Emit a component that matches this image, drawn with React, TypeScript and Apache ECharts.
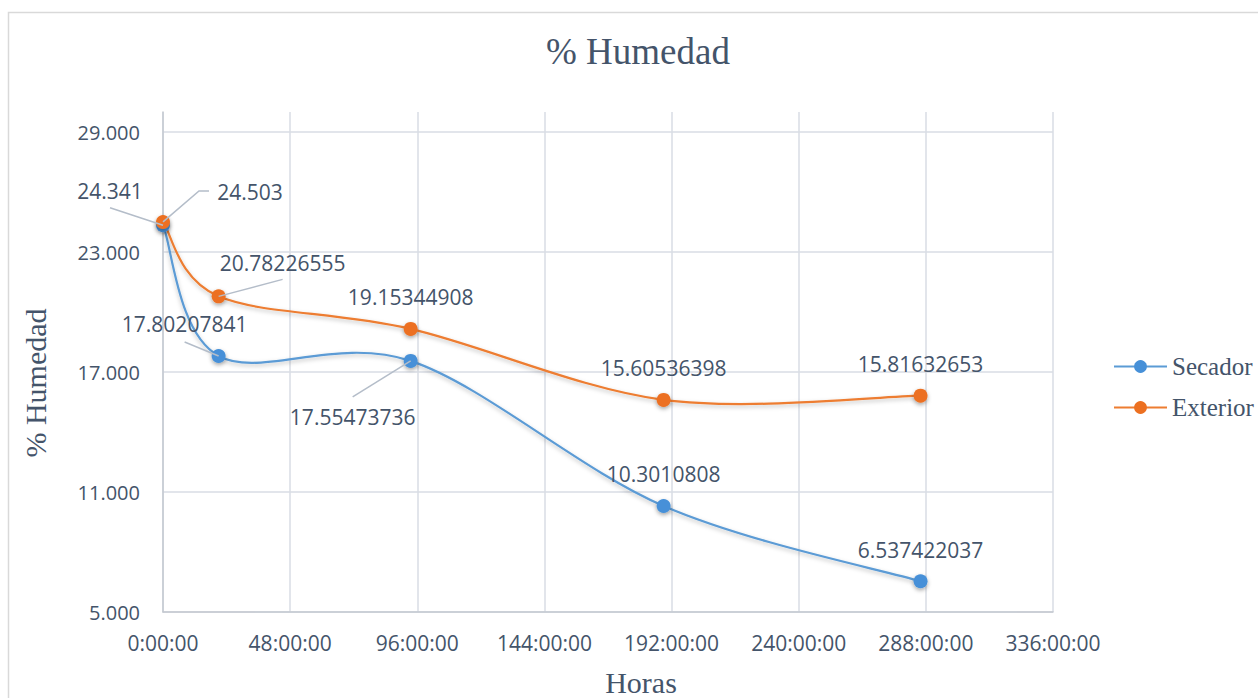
import React, { useEffect, useRef } from "react";
import * as echarts from "echarts";

// ---- data ----
const horasSecador = [0, 21, 93.5, 189, 286];
const horasExterior = [0, 21, 93.5, 189, 286];
const secador = [24.341, 17.80207841, 17.55473736, 10.3010808, 6.537422037];
const exterior = [24.503, 20.78226555, 19.15344908, 15.60536398, 15.81632653];
const seriesNames = ["Secador", "Exterior"];
const xTickHours = [0, 48, 96, 144, 192, 240, 288, 336];
const yTickValues = [5, 11, 17, 23, 29];
const titleText = "% Humedad";
const xAxisTitle = "Horas";
const yAxisTitle = "% Humedad";

// ---- label placement (style, pixel offsets) ----
const secadorLabelOffsets = [[-53, -3], [-34, 0], [-58, 88], [0, 0], [0, 0]];
const exteriorLabelOffsets = [[87, 2], [64, -2], [0, 0], [0, 0], [0, 0]];
// leader line points, in px relative to the data point (null = no leader)
const secadorLeaderOffsets: (number[][] | null)[] = [
  [[-53, -17.5]],
  [[-34, -14]],
  [[-58, 36]],
  null,
  null,
];
const exteriorLeaderOffsets: (number[][] | null)[] = [
  [[36, -31], [46, -31]],
  [[64, -17]],
  null,
  null,
  null,
];

const TEXT = "#44546a";
const GRID = "#d9dde4";
const AXIS = "#c3c8d0";
const LEADER = "#b4bdc9";
const BLUE_LINE = "#5b9bd5";
const BLUE_MARK = "#4690d8";
const ORANGE_LINE = "#ed7d31";
const ORANGE_MARK = "#ec7021";
const SANS = "'Open Sans', 'Noto Sans', sans-serif";
const SERIF = "'Liberation Serif', 'DejaVu Serif', serif";

// smooth curve (Catmull-Rom as bezier segments) drawn through the axes' scales
function curveSeries(name: string, xs: number[], ys: number[], color: string) {
  return {
    type: "custom",
    name,
    z: 2,
    silent: true,
    data: xs.map((x, i) => [x, ys[i]]),
    encode: { x: 0, y: 1 },
    renderItem: (params: any, api: any) => {
      const i = params.dataIndexInside;
      const n = params.dataInsideLength;
      if (i >= n - 1) return null;
      const pt = (k: number) => {
        const kk = Math.max(0, Math.min(n - 1, k));
        return api.coord([api.value(0, kk), api.value(1, kk)]);
      };
      const p0 = pt(i - 1);
      const p1 = pt(i);
      const p2 = pt(i + 1);
      const p3 = pt(i + 2);
      const t = 1 / 6;
      return {
        type: "bezierCurve",
        shape: {
          x1: p1[0],
          y1: p1[1],
          cpx1: p1[0] + (p2[0] - p0[0]) * t,
          cpy1: p1[1] + (p2[1] - p0[1]) * t,
          cpx2: p2[0] - (p3[0] - p1[0]) * t,
          cpy2: p2[1] - (p3[1] - p1[1]) * t,
          x2: p2[0],
          y2: p2[1],
        },
        style: {
          fill: "none",
          stroke: color,
          lineWidth: 2.2,
          shadowColor: "rgba(0,0,0,0.25)",
          shadowBlur: 4,
          shadowOffsetY: 2,
        },
      };
    },
  };
}

function leaderSeries(name: string, xs: number[], ys: number[], offs: (number[][] | null)[]) {
  const idx = offs.map((o, i) => (o ? i : -1)).filter((i) => i >= 0);
  return {
    type: "custom",
    name,
    z: 4,
    silent: true,
    data: idx.map((i) => [xs[i], ys[i], i]),
    encode: { x: 0, y: 1 },
    renderItem: (params: any, api: any) => {
      const p = api.coord([api.value(0), api.value(1)]);
      const o = offs[api.value(2)] as number[][];
      const pts = [[p[0], p[1]], ...o.map((d) => [p[0] + d[0], p[1] + d[1]])];
      return {
        type: "polyline",
        shape: { points: pts },
        style: { fill: "none", stroke: LEADER, lineWidth: 1.5 },
      };
    },
  };
}

export default function App() {
  const ref = useRef<HTMLDivElement>(null);
  useEffect(() => {
    if (!ref.current) return;
    const chart = echarts.init(ref.current, undefined, { renderer: "svg" });
    const offsets = [secadorLabelOffsets, exteriorLabelOffsets];
    const mkSeries = (
      name: string,
      xs: number[],
      ys: number[],
      lineColor: string,
      markColor: string
    ) => ({
      type: "line",
      name,
      z: 3,
      smooth: false,
      symbol: "circle",
      symbolSize: 14,
      data: xs.map((x, i) => [x, ys[i]]),
      lineStyle: { color: lineColor, width: 2.2, opacity: 0 },
      itemStyle: {
        color: markColor,
        borderWidth: 0,
        shadowColor: "rgba(0,0,0,0.35)",
        shadowBlur: 4,
        shadowOffsetY: 2,
      },
      label: {
        show: true,
        position: "top",
        distance: 14,
        fontFamily: SANS,
        fontSize: 21,
        color: TEXT,
        formatter: (p: any) => String(p.value[1]),
      },
      labelLayout: (p: any) => {
        const o = offsets[p.seriesIndex - 2][p.dataIndex];
        return { dx: o[0], dy: o[1] };
      },
      emphasis: { disabled: true },
    });

    chart.setOption({
      animation: false,
      backgroundColor: "#ffffff",
      title: {
        text: titleText,
        left: 541,
        top: 28,
        textStyle: {
          fontFamily: SERIF,
          fontSize: 37,
          fontWeight: "normal",
          color: TEXT,
        },
      },
      legend: {
        data: seriesNames,
        orient: "vertical",
        left: 1108,
        top: 349,
        itemWidth: 53,
        itemHeight: 16,
        itemGap: 16,
        lineStyle: { opacity: 1, width: 2 },
        textStyle: {
          fontFamily: SERIF,
          fontSize: 25,
          color: TEXT,
        },
      },
      grid: { left: 163, right: 205, top: 112, bottom: 86, containLabel: false },
      xAxis: {
        type: "value",
        min: xTickHours[0],
        max: xTickHours[xTickHours.length - 1],
        interval: xTickHours[1] - xTickHours[0],
        axisLine: { show: true, lineStyle: { color: AXIS, width: 1.5 } },
        axisTick: { show: false },
        splitLine: { show: true, lineStyle: { color: GRID, width: 1.5 } },
        axisLabel: {
          fontFamily: SANS,
          fontSize: 21,
          color: TEXT,
          margin: 20,
          formatter: (v: number) => `${v}:00:00`,
        },
      },
      yAxis: {
        type: "value",
        min: yTickValues[0],
        max: 30,
        interval: yTickValues[1] - yTickValues[0],
        axisLine: { show: true, lineStyle: { color: AXIS, width: 1.5 } },
        axisTick: { show: false },
        splitLine: {
          show: true,
          showMaxLine: false,
          lineStyle: { color: GRID, width: 1.5 },
        },
        axisLabel: {
          fontFamily: SANS,
          fontSize: 20,
          color: TEXT,
          margin: 23,
          showMaxLabel: false,
          formatter: (v: number) =>
            yTickValues.indexOf(v) >= 0 ? v.toFixed(3) : "",
        },
      },
      graphic: [
        {
          type: "rect",
          shape: { x: 8.5, y: 12.5, width: 1400, height: 800 },
          style: { fill: "none", stroke: "#d9d9d9", lineWidth: 1.5 },
          silent: true,
        },
        {
          type: "text",
          x: 641,
          y: 682,
          style: {
            text: xAxisTitle,
            fontFamily: SERIF,
            fontSize: 30,
            fill: TEXT,
            textAlign: "center",
            textVerticalAlign: "middle",
          },
        },
        {
          type: "text",
          x: 35,
          y: 383,
          rotation: Math.PI / 2,
          style: {
            text: yAxisTitle,
            fontFamily: SERIF,
            fontSize: 30,
            fill: TEXT,
            textAlign: "center",
            textVerticalAlign: "middle",
          },
        },
      ],
      series: [
        curveSeries("curva-secador", horasSecador, secador, BLUE_LINE),
        curveSeries("curva-exterior", horasExterior, exterior, ORANGE_LINE),
        mkSeries(seriesNames[0], horasSecador, secador, BLUE_LINE, BLUE_MARK),
        mkSeries(seriesNames[1], horasExterior, exterior, ORANGE_LINE, ORANGE_MARK),
        leaderSeries("guia-secador", horasSecador, secador, secadorLeaderOffsets),
        leaderSeries("guia-exterior", horasExterior, exterior, exteriorLeaderOffsets),
      ],
    });
    return () => chart.dispose();
  }, []);
  return (
    <div
      ref={ref}
      style={{ position: "fixed", left: 0, top: 0, width: 1258, height: 698, background: "#fff" }}
    />
  );
}
